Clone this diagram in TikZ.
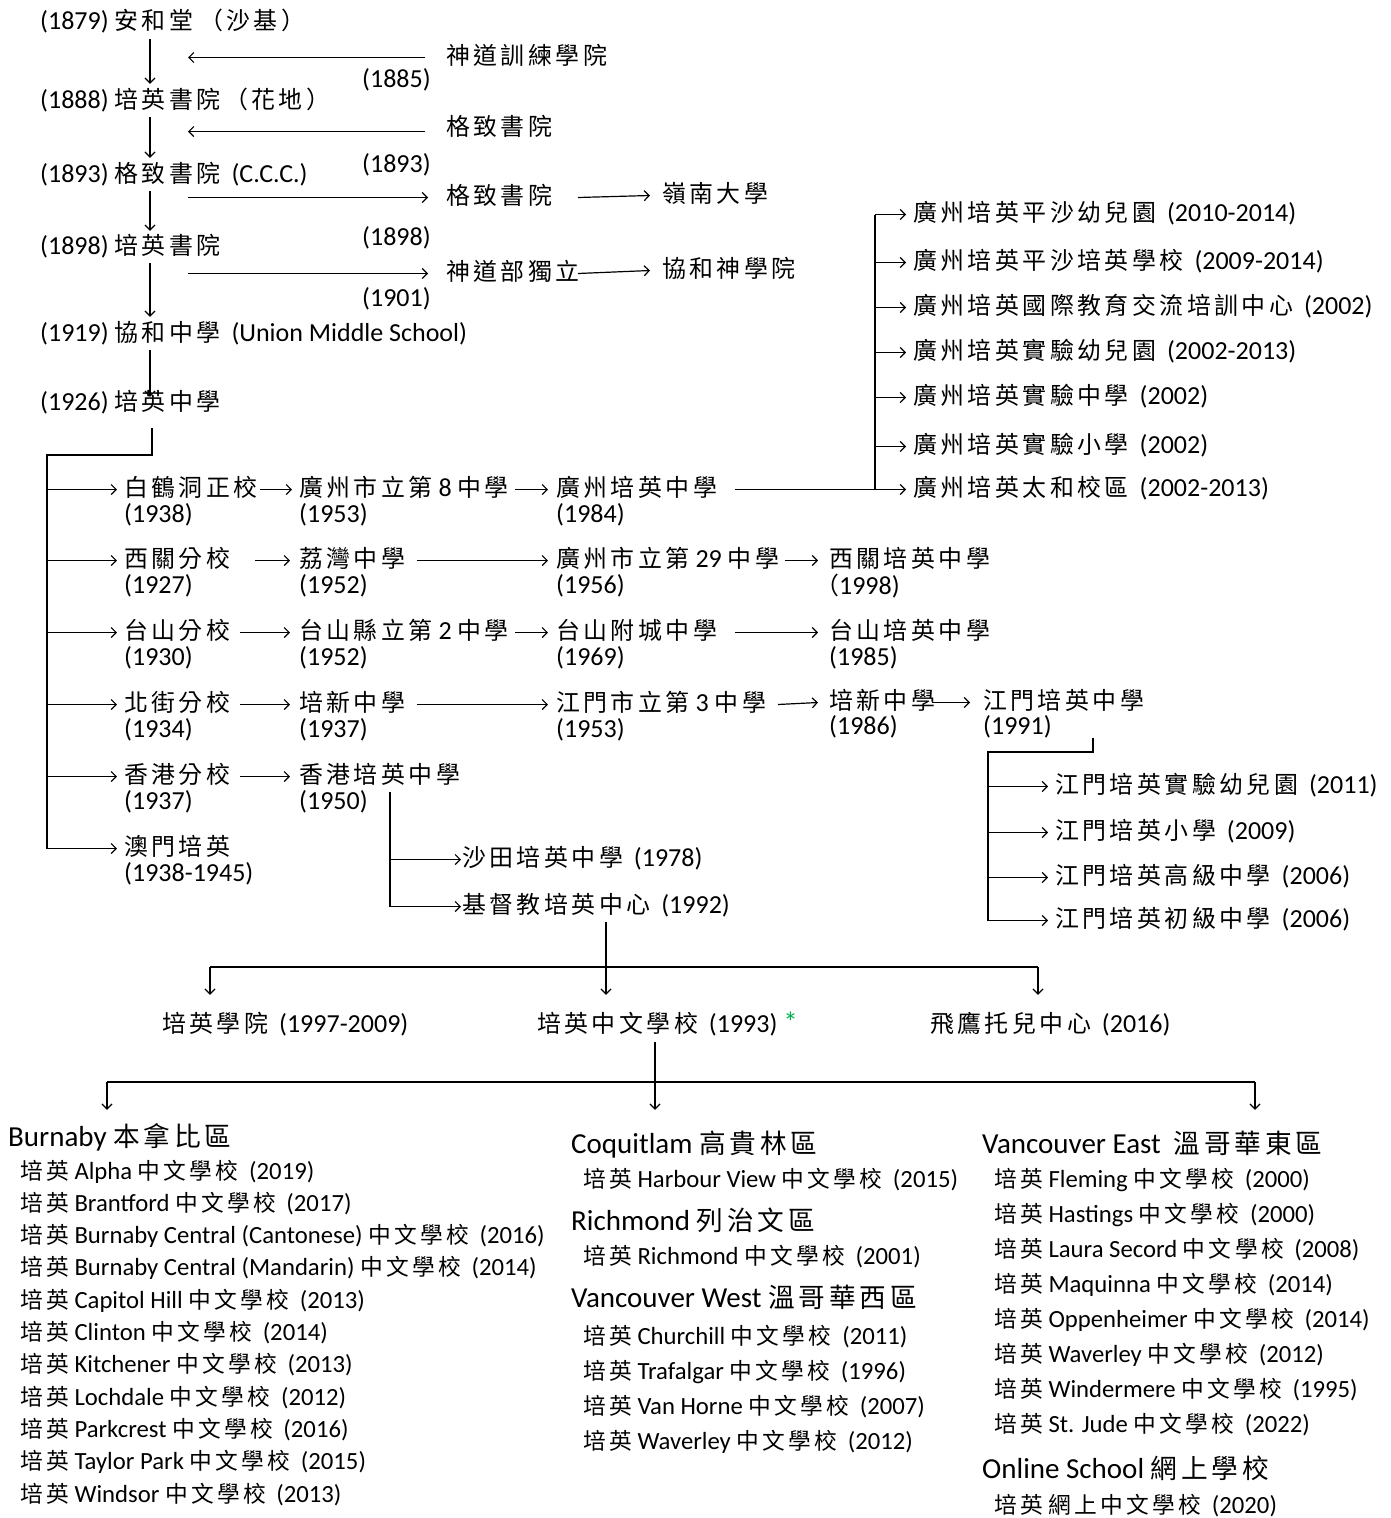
\documentclass[tikz,border=0pt]{standalone}
\usepackage{fontspec}
\setmainfont{Carlito}
\newfontfamily\cjkfont{Noto Sans CJK TC}[Scale=0.92,LetterSpace=14.5]
\usetikzlibrary{arrows.meta,calc}
\XeTeXinterchartokenstate=1
\newXeTeXintercharclass\cjkcls
\newcount\cjkcnt
\def\cjkrange#1#2{\cjkcnt=#1\relax\loop\XeTeXcharclass\cjkcnt=\cjkcls\advance\cjkcnt by 1\relax\ifnum\cjkcnt<#2\relax\repeat}
\cjkrange{"3000}{"3040}
\cjkrange{"4E00}{"A000}
\cjkrange{"FF00}{"FF60}
\XeTeXinterchartoks 0 \cjkcls = {\cjkfont}
\XeTeXinterchartoks 4095 \cjkcls = {\cjkfont}
\XeTeXinterchartoks \cjkcls 0 = {\rmfamily}
\XeTeXinterchartoks \cjkcls 4095 = {\rmfamily}
\newcommand\gp{\hspace{5pt}}
\definecolor{astgreen}{RGB}{0,176,80}
\begin{document}
\begin{tikzpicture}[x=1pt,y=-1pt,
  every node/.style={font=\fontsize{26}{31}\selectfont},
  t/.style={inner sep=0pt, anchor=base west, text height=19pt, text depth=6pt},
  sm/.style={t, font=\fontsize{24.7}{30}\selectfont},
  hd/.style={t, font=\fontsize{29}{34}\selectfont},
  ln/.style={line width=1.2pt},
  arr/.style={ln, -{Straight Barb[length=5pt,width=10pt]}},
]
\useasboundingbox[fill=white] (0,0) rectangle (1390,1518);

% ---------- top chain ----------
\node[t] (n1879) at (40,29) {(1879) 安和堂 （沙基）};
\node[t] (t1) at (446,64) {神道訓練學院};
\node[t] (y1885) at (362,87) {(1885)};
\node[t] (n1888) at (40,108) {(1888) 培英書院（花地）};
\node[t] (t2) at (446,135) {格致書院};
\node[t] (y1893) at (362,172) {(1893)};
\node[t] (n1893) at (40,182) {(1893) 格致書院 \gp(C.C.C.)};
\node[t] (t3) at (446,204) {格致書院};
\node[t] (t3b) at (662,202) {嶺南大學};
\node[t] (y1898) at (362,245) {(1898)};
\node[t] (n1898) at (40,254) {(1898) 培英書院};
\node[t] (t4) at (446,280) {神道部獨立};
\node[t] (t4b) at (662,277) {協和神學院};
\node[t] (y1901) at (362,306) {(1901)};
\node[t] (n1919) at (40,341) {(1919) 協和中學 \gp(Union Middle School)};
\node[t] (n1926) at (40,410) {(1926) 培英中學};

\coordinate (cx) at (150,0);
\coordinate (cb) at (188,0);
\draw[arr] ($(n1879.south -| cx)+(0,4)$) -- ($(n1888.north -| cx)+(0,-5)$);
\draw[arr] ($(n1888.south -| cx)+(0,3)$) -- ($(n1893.north -| cx)+(0,-5)$);
\draw[arr] ($(n1893.south -| cx)+(0,3)$) -- ($(n1898.north -| cx)+(0,-4)$);
\draw[arr] ($(n1898.south -| cx)+(0,3)$) -- ($(n1919.north -| cx)+(0,-5)$);
\draw[arr] ($(n1919.south -| cx)+(0,3)$) -- ($(n1926.north -| cx)+(0,6)$);

\draw[arr] ([xshift=-21pt]t1.west) -- (t1.west -| cb);
\draw[arr] ([xshift=-21pt,yshift=-3pt]t2.west) -- ($(t2.west -| cb)+(0,3)$);
\draw[arr] (t3.west -| cb) -- ([xshift=-18pt]t3.west);
\draw[arr] (t4.west -| cb) -- ([xshift=-18pt]t4.west);
\draw[arr] ([xshift=132pt]t3.west) -- ([xshift=-12pt]t3b.west);
\draw[arr] ([xshift=132pt]t4.west) -- ([xshift=-12pt]t4b.west);

% ---------- branches ----------
\node[t] (r1a) at (124,496) {白鶴洞正校};
\node[t] (r1ay) at (124,522) {(1938)};
\node[t] (r1b) at (299,496) {廣州市立第 8 中學};
\node[t] (r1by) at (299,522) {(1953)};
\node[t] (r1c) at (556,496) {廣州培英中學};
\node[t] (r1cy) at (556,522) {(1984)};

\node[t] (r2a) at (124,567) {西關分校};
\node[t] (r2ay) at (124,593) {(1927)};
\node[t] (r2b) at (299,567) {荔灣中學};
\node[t] (r2by) at (299,593) {(1952)};
\node[t] (r2c) at (556,567) {廣州市立第 29 中學};
\node[t] (r2cy) at (556,593) {(1956)};
\node[t] (r2d) at (829,567) {西關培英中學};
\node[t] (r2dy) at (815,594) {（1998)};

\node[t] (r3a) at (124,639) {台山分校};
\node[t] (r3ay) at (124,665) {(1930)};
\node[t] (r3b) at (299,639) {台山縣立第 2 中學};
\node[t] (r3by) at (299,665) {(1952)};
\node[t] (r3c) at (556,639) {台山附城中學};
\node[t] (r3cy) at (556,665) {(1969)};
\node[t] (r3d) at (829,639) {台山培英中學};
\node[t] (r3dy) at (829,665) {(1985)};

\node[t] (r4a) at (124,711) {北街分校};
\node[t] (r4ay) at (124,737) {(1934)};
\node[t] (r4b) at (299,711) {培新中學};
\node[t] (r4by) at (299,737) {(1937)};
\node[t] (r4c) at (556,711) {江門市立第 3 中學};
\node[t] (r4cy) at (556,737) {(1953)};
\node[t] (r4d) at (829,709) {培新中學};
\node[t] (r4dy) at (829,734) {(1986)};
\node[t] (r4e) at (983,709) {江門培英中學};
\node[t] (r4ey) at (983,734) {(1991)};

\node[t] (r5a) at (124,783) {香港分校};
\node[t] (r5ay) at (124,809) {(1937)};
\node[t] (r5b) at (299,783) {香港培英中學};
\node[t] (r5by) at (299,809) {(1950)};

\node[t] (r6a) at (124,855) {澳門培英};
\node[t] (r6ay) at (124,881) {(1938-1945)};

% left trunk
\coordinate (tr) at (47,455);
\draw[ln] ($(n1926.south -| cx)+(2,12)$) |- (tr) -- (tr |- r6a.west);
\foreach \r in {r1a,r2a,r3a,r4a,r5a,r6a}
  \draw[arr] (\r.west -| tr) -- ([xshift=-7pt]\r.west);

% row arrows
\draw[arr] ([xshift=136pt]r1a.west) -- ([xshift=-7pt]r1b.west);
\draw[arr] ([xshift=216pt]r1b.west) -- ([xshift=-8pt]r1c.west);
\draw[arr] ([xshift=131pt]r2a.west) -- ([xshift=-9pt]r2b.west);
\draw[arr] ([xshift=118pt]r2b.west) -- ([xshift=-8pt]r2c.west);
\draw[arr] ([xshift=229pt]r2c.west) -- ([xshift=-11pt]r2d.west);
\draw[arr] ([xshift=116pt]r3a.west) -- ([xshift=-9pt]r3b.west);
\draw[arr] ([xshift=216pt]r3b.west) -- ([xshift=-8pt]r3c.west);
\draw[arr] ([xshift=179pt]r3c.west) -- ([xshift=-11pt]r3d.west);
\draw[arr] ([xshift=116pt]r4a.west) -- ([xshift=-9pt]r4b.west);
\draw[arr] ([xshift=118pt]r4b.west) -- ([xshift=-8pt]r4c.west);
\draw[arr] ([xshift=222pt]r4c.west) -- ([xshift=-11pt]r4d.west);
\draw[arr] ([xshift=103pt]r4d.west) -- ([xshift=-13pt]r4e.west);
\draw[arr] ([xshift=116pt]r5a.west) -- ([xshift=-9pt]r5b.west);

% Guangzhou fan
\node[t] (gz1) at (913,221) {廣州培英平沙幼兒園 \gp(2010-2014)};
\node[t] (gz2) at (913,269) {廣州培英平沙培英學校 \gp(2009-2014)};
\node[t] (gz3) at (913,314) {廣州培英國際教育交流培訓中心 \gp(2002)};
\node[t] (gz4) at (913,359) {廣州培英實驗幼兒園 \gp(2002-2013)};
\node[t] (gz5) at (913,404) {廣州培英實驗中學 \gp(2002)};
\node[t] (gz6) at (913,453) {廣州培英實驗小學 \gp(2002)};
\node[t] (gz7) at (913,496) {廣州培英太和校區 \gp(2002-2013)};
\coordinate (gb) at (875,0);
\draw[ln] ([xshift=179pt]r1c.west) -- (r1c.west -| gb);
\draw[ln] (gz1.west -| gb) -- (gz7.west -| gb);
\foreach \g in {gz1,gz2,gz3,gz4,gz5,gz6,gz7}
  \draw[arr] (\g.west -| gb) -- ([xshift=-7pt]\g.west);

% Jiangmen fan
\node[t] (jm1) at (1055,793) {江門培英實驗幼兒園 \gp(2011)};
\node[t] (jm2) at (1055,839) {江門培英小學 \gp(2009)};
\node[t] (jm3) at (1055,884) {江門培英高級中學 \gp(2006)};
\node[t] (jm4) at (1055,927) {江門培英初級中學 \gp(2006)};
\coordinate (jb) at (988,752);
\draw[ln] ($(r4e.west)+(110,35)$) |- (jb) -- (jb |- jm4.west);
\foreach \j in {jm1,jm2,jm3,jm4}
  \draw[arr] (\j.west -| jb) -- ([xshift=-7pt]\j.west);

% Hong Kong fan
\node[t] (hk1) at (462,866) {沙田培英中學 \gp(1978)};
\node[t] (hk2) at (462,913) {基督教培英中心 \gp(1992)};
\coordinate (hb) at (390,0);
\draw[ln] ($(r5b.south -| hb)+(0,3)$) -- (hk2.west -| hb);
\draw[arr] (hk1.west -| hb) -- ([xshift=-1pt]hk1.west);
\draw[arr] (hk2.west -| hb) -- ([xshift=-1pt]hk2.west);

% ---------- lower tree ----------
\node[t] (c1) at (162,1032) {培英學院 \gp(1997-2009)};
\node[t] (c2) at (537,1032) {培英中文學校 \gp(1993) \textcolor{astgreen}{\fontsize{29}{34}\selectfont *}};
\node[t] (c3) at (930,1032) {飛鷹托兒中心 \gp(2016)};
\coordinate (cb1) at (606,967);
\coordinate (l1) at (210,967);
\coordinate (l3) at (1038,967);
\draw[ln] (l1) -- (l3);
\draw[arr] ($(hk2.south -| cb1)+(0,3)$) -- ($(c2.north -| cb1)+(0,-18)$);
\draw[arr] (l1) -- ($(c1.north -| l1)+(0,-18)$);
\draw[arr] (l3) -- ($(c3.north -| l3)+(0,-18)$);

% ---------- Canada columns ----------
\node[hd] (b0) at (8,1146) {Burnaby 本拿比區};
\foreach \txt [count=\i] in {
  培英 Alpha 中文學校 \gp(2019),
  培英 Brantford 中文學校 \gp(2017),
  培英 Burnaby Central (Cantonese) 中文學校 \gp(2016),
  培英 Burnaby Central (Mandarin) 中文學校 \gp(2014),
  培英 Capitol Hill 中文學校 \gp(2013),
  培英 Clinton 中文學校 \gp(2014),
  培英 Kitchener 中文學校 \gp(2013),
  培英 Lochdale 中文學校 \gp(2012),
  培英 Parkcrest 中文學校 \gp(2016),
  培英 Taylor Park 中文學校 \gp(2015),
  培英 Windsor 中文學校 \gp(2013)}
  \node[sm] (b\i) at (20,{1146.7+32.3*\i}) {\txt};

\node[hd] (k0) at (571,1153) {Coquitlam 高貴林區};
\node[sm] (k1) at (583,1187) {培英 Harbour View 中文學校 \gp(2015)};
\node[hd] (q0) at (571,1230) {Richmond 列治文區};
\node[sm] (q1) at (583,1264) {培英 Richmond 中文學校 \gp(2001)};
\node[hd] (w0) at (571,1307) {Vancouver West 溫哥華西區};
\node[sm] (w1) at (583,1344) {培英 Churchill 中文學校 \gp(2011)};
\node[sm] (w2) at (583,1379) {培英 Trafalgar 中文學校 \gp(1996)};
\node[sm] (w3) at (583,1414) {培英 Van Horne 中文學校 \gp(2007)};
\node[sm] (w4) at (583,1449) {培英 Waverley 中文學校 \gp(2012)};

\node[hd] (e0) at (982,1153) {Vancouver East\hspace{6pt} 溫哥華東區};
\foreach \txt [count=\i] in {
  培英 Fleming 中文學校 \gp(2000),
  培英 Hastings 中文學校 \gp(2000),
  培英 Laura Secord 中文學校 \gp(2008),
  培英 Maquinna 中文學校 \gp(2014),
  培英 Oppenheimer 中文學校 \gp(2014),
  培英 Waverley 中文學校 \gp(2012),
  培英 Windermere 中文學校 \gp(1995),
  培英 St. Jude 中文學校 \gp(2022)}
  \node[sm] (e\i) at (994,{1152+35*\i}) {\txt};
\node[hd] (o0) at (982,1478) {Online School 網上學校};
\node[sm] (o1) at (994,1513) {培英 網上中文學校 \gp(2020)};

\coordinate (cb2) at (655,1082);
\coordinate (m1) at (107,1082);
\coordinate (m3) at (1255,1082);
\draw[ln] (m1) -- (m3);
\draw[arr] ($(c2.south -| cb2)+(0,4)$) -- ($(k0.north -| cb2)+(0,-24)$);
\draw[arr] (m1) -- ($(b0.north -| m1)+(0,-17)$);
\draw[arr] (m3) -- ($(e0.north -| m3)+(0,-24)$);
\end{tikzpicture}
\end{document}
